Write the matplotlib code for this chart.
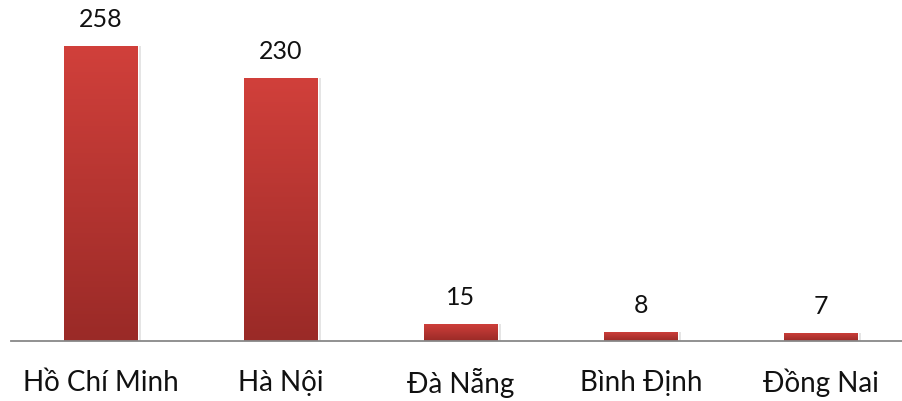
import matplotlib.pyplot as plt
import numpy as np
from matplotlib.colors import LinearSegmentedColormap

provinces = ['Hồ Chí Minh', 'Hà Nội', 'Đà Nẵng', 'Bình Định', 'Đồng Nai']
counts = [258, 230, 15, 8, 7]

plt.rcParams['font.family'] = ['Lato', 'DejaVu Sans']

fig = plt.figure(figsize=(9.02, 4.01), dpi=100)
# plot area: baseline at y=341 px, categories every 180 px starting at x=11
ax = fig.add_axes([11 / 902, 60 / 401, 900 / 902, 341 / 401])

x = np.arange(len(provinces))
bars = ax.bar(x, counts, width=0.41, color='#C0393A', edgecolor='none', zorder=2)

ax.set_xlim(-0.5, len(provinces) - 0.5)
ax.set_ylim(0, 298.2)

# vertical red gradient inside each bar
grad_cmap = LinearSegmentedColormap.from_list('red_grad', ['#9A2A27', '#D1403B'])
grad = np.linspace(0, 1, 256).reshape(-1, 1)
for b in bars:
    x0, y0 = b.get_x(), b.get_y()
    w, h = b.get_width(), b.get_height()
    im = ax.imshow(grad, cmap=grad_cmap, origin='lower', aspect='auto',
                   extent=(x0, x0 + w, y0, y0 + h), zorder=3)
    im.set_clip_path(b)
    # faint shadow on the right side
    ax.bar(x0 + w + 0.006, h, width=0.012, align='edge', color='#999999',
           alpha=0.25, edgecolor='none', zorder=1)

for xi, v in zip(x, counts):
    ax.annotate(str(v), (xi, v), xytext=(0, 26), textcoords='offset pixels',
                ha='center', va='center', fontsize=18, color='#111111')

for xi, name in zip(x, provinces):
    ax.annotate(name, (xi, 0), xytext=(0, -42), textcoords='offset pixels',
                ha='center', va='center', fontsize=20, color='#111111',
                annotation_clip=False)

for s in ['top', 'right', 'left']:
    ax.spines[s].set_visible(False)
ax.spines['bottom'].set_color('#888888')
ax.spines['bottom'].set_linewidth(1.3)
ax.spines['bottom'].set_zorder(4)
ax.set_xticks([])
ax.set_yticks([])

fig.savefig('out.png', dpi=100)
